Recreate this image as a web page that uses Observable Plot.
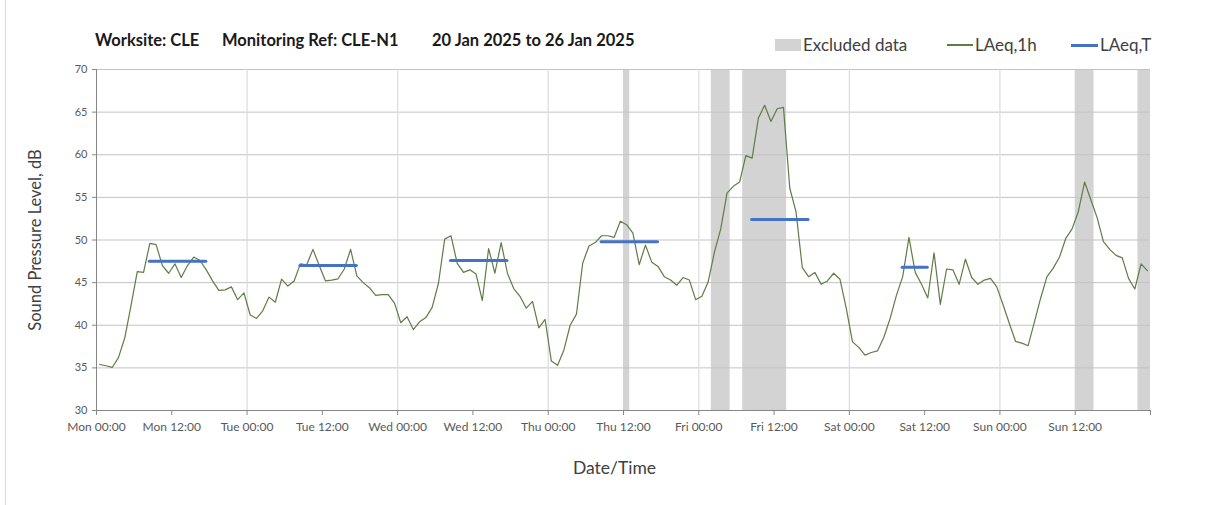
<!DOCTYPE html>
<html>
<head>
<meta charset="utf-8">
<script src="https://cdn.jsdelivr.net/npm/d3@7"></script>
<script src="https://cdn.jsdelivr.net/npm/@observablehq/plot@0.6"></script>
<style>
  html, body { margin: 0; padding: 0; background: #fff; }
  #wrap { position: relative; width: 1208px; height: 505px; overflow: hidden; font-family: Lato, "Open Sans", sans-serif; }
  #border { position: absolute; left: 5px; top: 0; width: 1px; height: 505px; background: #d9d9d9; }
  .t { position: absolute; white-space: nowrap; line-height: 1; }
  .title { font-weight: bold; font-size: 16.5px; color: #1a1a1a; top: 32px; }
  .leg { font-size: 17px; color: #404040; top: 36px; }
  #chart { position: absolute; left: 0; top: 60px; }
</style>
</head>
<body>
<div id="wrap">
  <div id="border"></div>
  <div class="t title" style="left:95px">Worksite: CLE</div>
  <div class="t title" style="left:222px">Monitoring Ref: CLE-N1</div>
  <div class="t title" style="left:432px">20 Jan 2025 to 26 Jan 2025</div>
  <div style="position:absolute;left:775px;top:39px;width:26px;height:12px;background:#d3d3d3"></div>
  <div class="t leg" style="left:803px">Excluded data</div>
  <div style="position:absolute;left:947px;top:44px;width:26px;height:1.5px;background:#5e7d45"></div>
  <div class="t leg" style="left:975px">LAeq,1h</div>
  <div style="position:absolute;left:1071px;top:43.5px;width:27px;height:3px;background:#4472c4"></div>
  <div class="t leg" style="left:1100px">LAeq,T</div>
  <div id="chart"></div>
</div>
<script>
// Hourly LAeq,1h values (Mon 00:00 .. Sun 23:00), dB
const laeq1h = [
  35.4, 35.25, 35.05, 36.2, 38.5, 42.3, 46.3, 46.2, 49.6, 49.45, 47.0, 46.1,
  47.2, 45.6, 47.0, 48.0, 47.6, 46.5, 45.2, 44.1, 44.15, 44.5, 43.0, 43.8,
  41.2, 40.8, 41.7, 43.3, 42.7, 45.4, 44.6, 45.2, 47.2, 47.1, 48.9, 47.0,
  45.2, 45.3, 45.45, 46.6, 48.9, 45.8, 45.0, 44.4, 43.5, 43.6, 43.6, 42.6,
  40.3, 41.0, 39.5, 40.4, 40.9, 42.1, 44.9, 50.1, 50.5, 47.25, 46.2, 46.5,
  46.0, 42.9, 49.0, 46.1, 49.7, 46.1, 44.3, 43.4, 42.0, 42.8, 39.7, 40.7,
  35.8, 35.3, 37.1, 40.0, 41.3, 47.3, 49.3, 49.7, 50.5, 50.5, 50.3, 52.2,
  51.8, 50.8, 47.1, 49.4, 47.4, 46.9, 45.7, 45.3, 44.7, 45.6, 45.3, 43.0,
  43.4, 45.1, 48.6, 51.3, 55.5, 56.3, 56.8, 59.9, 59.6, 64.3, 65.8, 63.9,
  65.4, 65.55, 56.1, 53.3, 46.75, 45.7, 46.2, 44.8, 45.2, 46.1, 45.4, 42.0,
  38.05, 37.4, 36.5, 36.8, 37.0, 38.6, 40.8, 43.5, 45.7, 50.3, 46.2, 44.8,
  43.2, 48.5, 42.45, 46.6, 46.5, 44.8, 47.75, 45.6, 44.8, 45.3, 45.5, 44.5,
  42.4, 40.2, 38.1, 37.9, 37.6, 40.4, 43.2, 45.7, 46.7, 48.0, 50.2, 51.3,
  53.35, 56.8, 54.7, 52.6, 49.8, 48.9, 48.2, 47.9, 45.5, 44.25, 47.2, 46.4
];

// LAeq,T period values (hours from Mon 00:00)
const periodStart = [8.5, 32.5, 56.5, 80.5, 104.5, 128.5];
const periodEnd   = [17.5, 41.5, 65.5, 89.5, 113.5, 132.5];
const periodValue = [47.5, 47.0, 47.6, 49.8, 52.4, 46.8];

// Excluded data intervals (hours from Mon 00:00)
const excludedStart = [84, 98, 103, 156, 166];
const excludedEnd   = [85, 101, 110, 159, 168];

// Axis ticks
const xTickHours  = [0, 12, 24, 36, 48, 60, 72, 84, 96, 108, 120, 132, 144, 156, 168];
const xTickLabels = ["Mon 00:00", "Mon 12:00", "Tue 00:00", "Tue 12:00", "Wed 00:00", "Wed 12:00",
                     "Thu 00:00", "Thu 12:00", "Fri 00:00", "Fri 12:00", "Sat 00:00", "Sat 12:00",
                     "Sun 00:00", "Sun 12:00", ""];
const dayHours = [24, 48, 72, 96, 120, 144];
const yTicks = [30, 35, 40, 45, 50, 55, 60, 65, 70];

const labelByHour = new Map(xTickHours.map((h, i) => [h, xTickLabels[i]]));
const hourly = laeq1h.map((v, i) => ({t: i + 0.5, v}));
const periods = periodValue.map((v, i) => ({x1: periodStart[i], x2: periodEnd[i], v}));
const excluded = excludedStart.map((s, i) => ({x1: s, x2: excludedEnd[i]}));

const chart = Plot.plot({
  width: 1208,
  height: 445,
  marginLeft: 96,
  marginRight: 58,
  marginTop: 9,
  marginBottom: 95,
  style: {fontFamily: "Lato, 'Open Sans', sans-serif", color: "#595959", background: "transparent"},
  x: {type: "linear", domain: [0, 168]},
  y: {domain: [30, 70]},
  marks: [
    Plot.rect(excluded, {x1: "x1", x2: "x2", y1: 30, y2: 70, fill: "#d3d3d3"}),
    Plot.gridY(yTicks, {stroke: "#c3c3c3", strokeOpacity: 1}),
    Plot.ruleX(dayHours, {stroke: "#dcdcdc", strokeWidth: 1.2}),
    Plot.ruleX([0], {stroke: "#868686"}),
    Plot.ruleY([30], {stroke: "#868686"}),
    Plot.axisY({ticks: yTicks, tickSize: 4, tickPadding: 5, fontSize: 11, stroke: "#868686", label: null}),
    Plot.axisX({ticks: xTickHours, tickFormat: d => labelByHour.get(d), tickSize: 5, tickPadding: 7, fontSize: 12, stroke: "#868686", label: null}),
    Plot.line(hourly, {x: "t", y: "v", stroke: "#5e7d45", strokeWidth: 1.2}),
    Plot.ruleY(periods, {x1: "x1", x2: "x2", y: "v", stroke: "#4472c4", strokeWidth: 3, strokeLinecap: "round"}),
    Plot.text(["Sound Pressure Level, dB"], {frameAnchor: "left", textAnchor: "middle", dx: -61, rotate: -90, fontSize: 16.5, fill: "#404040"}),
    Plot.text(["Date/Time"], {frameAnchor: "bottom", textAnchor: "middle", dx: -9, dy: 63, fontSize: 17.5, fill: "#404040"})
  ]
});
document.getElementById("chart").appendChild(chart);
</script>
</body>
</html>
